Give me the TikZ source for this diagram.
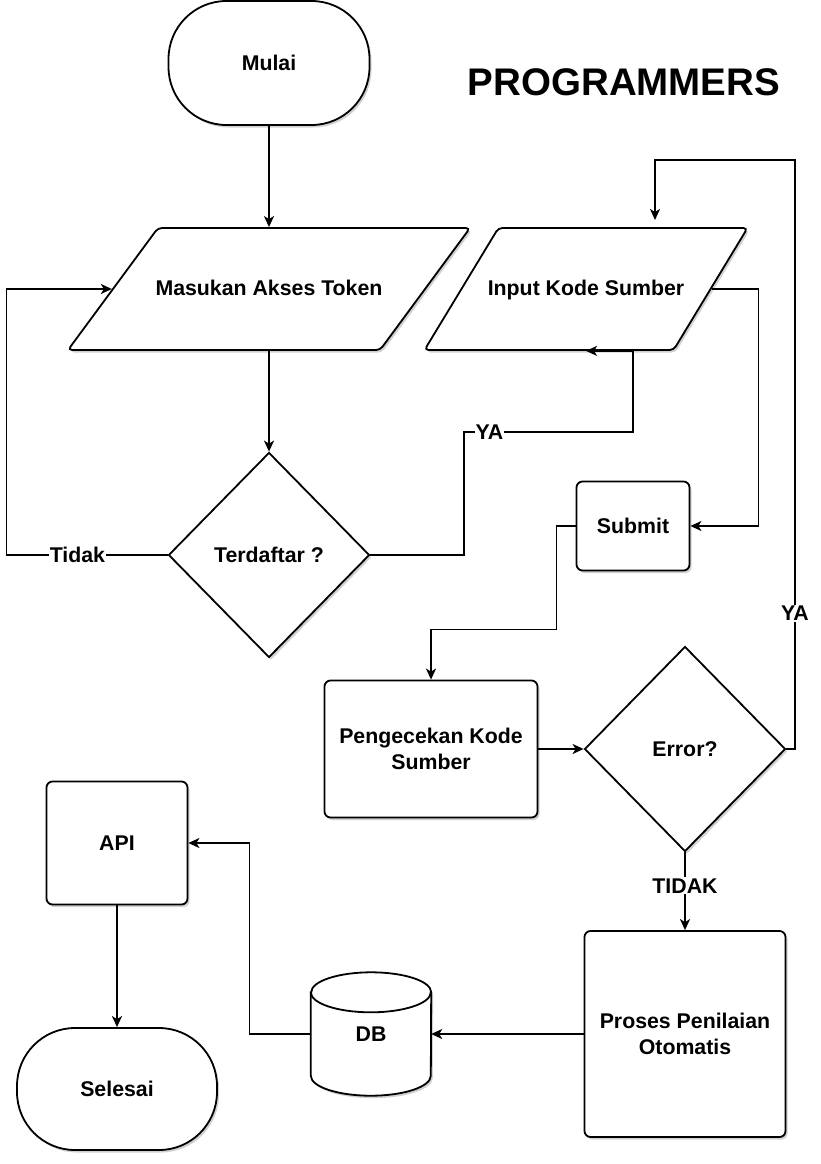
\documentclass[tikz,border=0pt]{standalone}
\usepackage{fontspec}
\setmainfont{Liberation Sans}
\usetikzlibrary{shapes.geometric, arrows.meta, positioning, calc, shadows, backgrounds}
\tikzset{
x=1pt, y=-1pt, % pixel-like coordinates, y grows downwards
>={Stealth[length=11pt, width=10pt, inset=3pt]}, % arrow heads
node distance=100pt, % centre to centre, tweaked with shifts
every node/.style={font=\bfseries\fontsize{21.3}{26}\selectfont},
shade/.style={drop shadow={shadow xshift=2pt, shadow yshift=-2.5pt, fill=black, opacity=0.18}},
base/.style={draw=black, line width=1.8pt, fill=white, align=center, inner sep=0pt, shade},
term/.style={base, rectangle, rounded corners=58pt, minimum width=201pt, minimum height=124pt},
io/.style={base, trapezium, trapezium stretches body, rounded corners=4pt, text height=16pt, text depth=4pt, inner ysep=51pt},
decision/.style={base, diamond, minimum width=201pt, minimum height=205pt},
process/.style={base, rectangle, rounded corners=6pt},
store/.style={rectangle, inner sep=0pt, minimum width=120pt, minimum height=123pt},
tub/.style={draw=black, line width=1.8pt},
flow/.style={->, line width=1.7pt},
lbl/.style={fill=white, inner sep=1pt},
}
\begin{document}
\begin{tikzpicture}
      \useasboundingbox (0,0) rectangle (821,1164);
      \node[font=\bfseries\fontsize{38.5}{44}\selectfont] (judul) at (624,82) {PROGRAMMERS};

      \node[term] (mulai) at (269,63) {Mulai};
      \node[io, trapezium left angle=53.6, trapezium right angle=126.4, inner xsep=-6pt, minimum width=402pt, below of=mulai, yshift=-126pt] (masuk) {Masukan Akses Token};
      \node[decision, below of=masuk, yshift=-166pt] (daftar) {Terdaftar ?};
      \node[io, trapezium left angle=58.8, trapezium right angle=121.2, inner xsep=-12pt, minimum width=323pt, right of=masuk, xshift=217pt] (input) {Input Kode Sumber};
      \node[process, minimum width=113pt, minimum height=89pt, below of=input, xshift=47pt, yshift=-137pt] (submit) {Submit};
      \node[process, minimum width=213pt, minimum height=137pt, below of=daftar, xshift=162pt, yshift=-94pt] (cek) {Pengecekan Kode\\Sumber};
      \node[decision, right of=cek, xshift=154pt] (error) {Error?};
      \node[process, minimum width=201pt, minimum height=206pt, below of=error, yshift=-185pt] (proses) {Proses Penilaian\\Otomatis};
      \node[store, left of=proses, xshift=-214pt] (db) {DB};
      \node[term, minimum width=200pt, minimum height=122pt, left of=db, xshift=-154pt, yshift=-55pt] (selesai) {Selesai};
      \node[process, minimum width=141pt, minimum height=123pt, above of=selesai, yshift=146pt] (api) {API};

      % the DB drum, behind its text
      \begin{scope}[on background layer]
        \draw[tub, fill=white, shade] ($(db.north west)+(0,20)$) -- ($(db.south west)+(0,-20)$)
          arc[start angle=180, end angle=360, x radius=60pt, y radius=20pt]
          -- ($(db.north east)+(0,20)$)
          arc[start angle=0, end angle=180, x radius=60pt, y radius=20pt] -- cycle;
        \draw[tub] ($(db.north west)+(0,20)$) arc[start angle=180, end angle=360, x radius=60pt, y radius=20pt];
      \end{scope}

      \coordinate (ya1) at (464,432);
      \coordinate (ya2) at (633,432);
      \coordinate (loop) at (795,160);

      \draw[flow] (mulai) -- (masuk);
      \draw[flow] (masuk) -- (daftar);
      \draw[flow] (daftar.west) -- node[lbl, pos=0.56]{Tidak} ++(-161,0) |- (masuk);
      \draw[flow] (daftar.east) -| (ya1) -- node[lbl, pos=0.15]{YA} (ya2) |- (input.south);
      \draw[flow] (input.east) -| ($(submit.east)+(68,0)$) -- (submit.east);
      \draw[flow] (submit.west) -- ++(-19,0) |- ($(cek.north)+(0,-50)$) -- (cek.north);
      \draw[flow] (cek) -- (error);
      \draw[flow] (error.east) -| node[lbl, pos=0.615]{YA} (loop) -| ($(input.center)+(69,-69)$);
      \draw[flow] (error) -- node[lbl, pos=0.43]{TIDAK} (proses);
      \draw[flow] (proses) -- (db);
      \draw[flow] (db.west) -| ($(api.east)+(61,0)$) -- (api.east);
      \draw[flow] (api) -- (selesai);
    \end{tikzpicture}
\end{document}
